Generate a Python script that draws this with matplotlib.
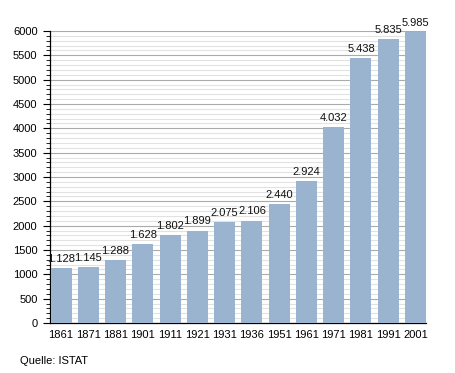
import matplotlib
matplotlib.use('Agg')
import matplotlib.pyplot as plt
from matplotlib.ticker import MultipleLocator

plt.rcParams['font.family'] = ['Liberation Sans', 'DejaVu Sans']

jahre = ['1861', '1871', '1881', '1901', '1911', '1921', '1931', '1936',
         '1951', '1961', '1971', '1981', '1991', '2001']
einwohner = [1128, 1145, 1288, 1628, 1802, 1899, 2075, 2106,
             2440, 2924, 4032, 5438, 5835, 5985]

breite = 0.77

fig = plt.figure(figsize=(4.55, 3.73), dpi=100)
ax = fig.add_axes([50/455, 1-323/373, 376/455, 292/373])

x = list(range(len(jahre)))
ax.bar(x, einwohner, width=breite, color='#9ab4d0', zorder=3)

for xi, v in zip(x, einwohner):
    lab = '{:,}'.format(v).replace(',', '.')
    ax.annotate(lab, (xi, v), xytext=(0, 3), textcoords='offset points',
                ha='center', va='bottom', fontsize=8, color='#111111')

ax.set_ylim(0, 6000)
ax.set_xlim(-breite/2 - 0.02, len(jahre) - 1 + breite/2)
ax.set_xticks(x)
ax.set_xticklabels(jahre, fontsize=8)
ax.yaxis.set_major_locator(MultipleLocator(500))
ax.yaxis.set_minor_locator(MultipleLocator(100))
ax.tick_params(axis='y', which='major', length=5, labelsize=8, pad=4)
ax.tick_params(axis='y', which='minor', length=3)
ax.tick_params(axis='x', length=0, labelsize=8, pad=5)

ax.grid(axis='y', which='major', color='#aaaaaa', lw=0.8, zorder=1)
ax.grid(axis='y', which='minor', color='#e2e2e2', lw=0.8, zorder=1)
for s in ['top', 'right']:
    ax.spines[s].set_visible(False)
ax.spines['left'].set_linewidth(0.9)
ax.spines['bottom'].set_linewidth(0.9)

fig.text(20/455, 1-361/373, 'Quelle: ISTAT', fontsize=8, va='center')

plt.savefig('out.png', dpi=100)
